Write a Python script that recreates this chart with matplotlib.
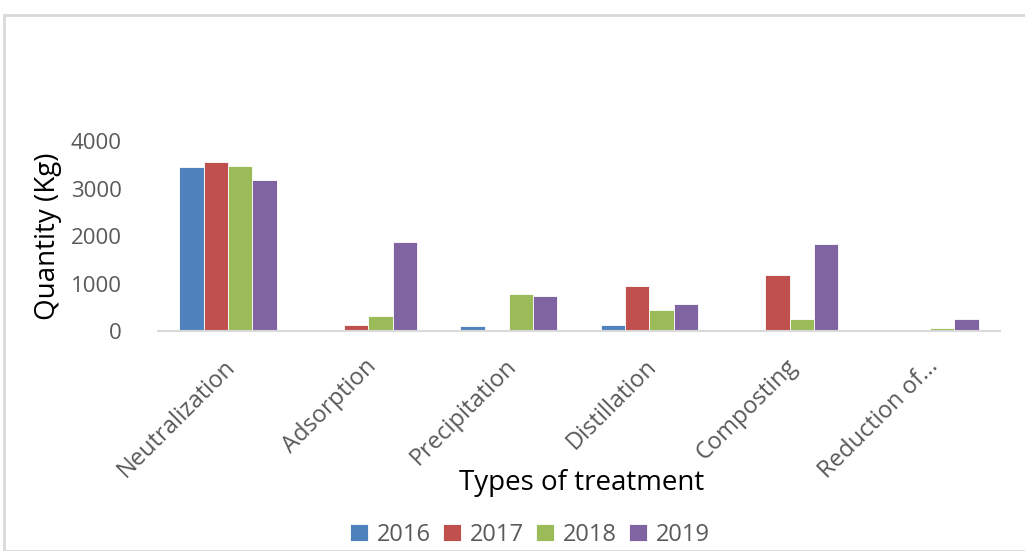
import matplotlib
matplotlib.use("Agg")
import matplotlib.pyplot as plt
import numpy as np
from matplotlib.patches import Rectangle
from matplotlib.transforms import ScaledTranslation

categories = ["Neutralization", "Adsorption", "Precipitation", "Distillation", "Composting", "Reduction of..."]
years = ["2016", "2017", "2018", "2019"]
v2016 = [3450, 0, 100, 130, 0, 0]
v2017 = [3550, 130, 0, 940, 1190, 0]
v2018 = [3480, 320, 780, 450, 260, 70]
v2019 = [3180, 1870, 740, 580, 1840, 260]
series = [v2016, v2017, v2018, v2019]
colors = ["#4F81BD", "#C0504D", "#9BBB59", "#8064A2"]

plt.rcParams['font.family'] = ['Open Sans', 'DejaVu Sans']

fig = plt.figure(figsize=(10.25, 5.51), dpi=100)
ax = fig.add_axes([0.154, 0.399, 0.822, 0.345])

x = np.arange(len(categories))
w = 0.173
for i, (vals, c, yr) in enumerate(zip(series, colors, years)):
    ax.bar(x + (i - 1.5) * w, vals, width=w, color=c, edgecolor="white", linewidth=0.6, label=yr)

ax.set_xlim(-0.5, len(categories) - 0.5)
ax.set_ylim(0, 4000)
ax.set_yticks([0, 1000, 2000, 3000, 4000])
for s in ["top", "right", "left"]:
    ax.spines[s].set_visible(False)
ax.spines["bottom"].set_color("#D9D9D9")
ax.spines["bottom"].set_linewidth(1.5)
ax.tick_params(axis="y", length=0, colors="#595959", labelsize=16, pad=26)
ax.tick_params(axis="x", length=0, colors="#595959", labelsize=17, pad=23)
ax.set_xticks(x)
ax.set_xticklabels(categories, rotation=45, ha="right", va="center", rotation_mode="anchor")
off = ScaledTranslation(4 / 100, 0, fig.dpi_scale_trans)
for lab in ax.get_xticklabels():
    lab.set_transform(lab.get_transform() + off)

fig.text(48 / 1025, 1 - 236 / 551, "Quantity (Kg)", rotation=90, ha="center", va="center",
         fontsize=20, color="black")
fig.text(582 / 1025, 1 - 483 / 551, "Types of treatment", ha="center", va="center",
         fontsize=20, color="black")

ax.legend(loc="center", bbox_to_anchor=(530 / 1025, 1 - 535 / 551),
          bbox_transform=fig.transFigure, ncol=4, frameon=False, fontsize=17,
          handlelength=0.75, handleheight=0.75, handletextpad=0.4, columnspacing=0.5,
          labelcolor="#595959")

fig.patches.append(Rectangle((4 / 1025, 0), 1.1, 1 - 15 / 551, transform=fig.transFigure,
                             fill=False, edgecolor="#D9D9D9", linewidth=2, zorder=0))

fig.savefig("out.png", dpi=100)
